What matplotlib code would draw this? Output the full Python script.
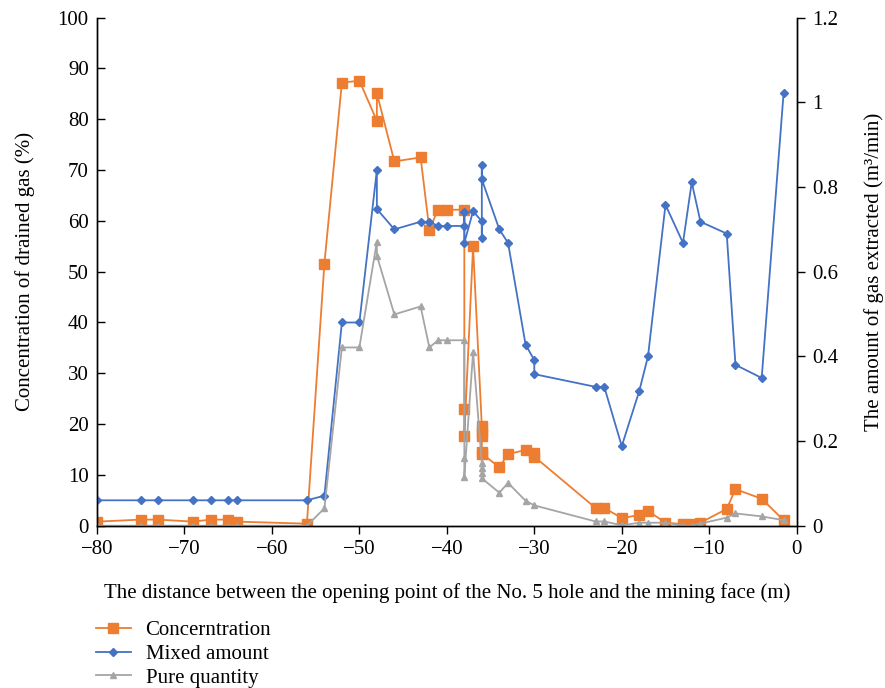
import matplotlib
matplotlib.use("Agg")
import matplotlib.pyplot as plt

plt.rcParams['font.family'] = ['Liberation Serif', 'DejaVu Serif']

# Concentration of drained gas (%) - left axis
conc_x = [-80, -75, -73, -69, -67, -65, -64, -56, -54, -52, -50, -48, -48, -46, -43, -42,
          -41, -40, -38, -38, -38, -37, -36, -36, -36, -36, -36, -34, -33, -31, -30, -30,
          -23, -22, -20, -18, -17, -15, -13, -12, -11, -8, -7, -4, -1.5]
conc = [0.8, 1.2, 1.2, 0.8, 1.2, 1.2, 0.8, 0.4, 51.6, 87.2, 87.6, 79.7, 85.1, 71.7, 72.5, 58.3,
        62.2, 62.2, 62.2, 22.9, 17.7, 55.0, 19.6, 18.5, 17.7, 14.6, 14.2, 11.5, 14.1, 14.9, 14.4, 13.6,
        3.5, 3.5, 1.5, 2.1, 2.9, 0.6, 0.3, 0.3, 0.6, 3.3, 7.2, 5.3, 1.1]

# Mixed amount (m3/min) - right axis
mixed_x = [-80, -75, -73, -69, -67, -65, -64, -56, -54, -52, -50, -48, -48, -46, -43, -42,
           -41, -40, -38, -38, -38, -37, -36, -36, -36, -36, -34, -33, -31, -30, -30,
           -23, -22, -20, -18, -17, -15, -13, -12, -11, -8, -7, -4, -1.5]
mixed = [0.06, 0.06, 0.06, 0.06, 0.06, 0.06, 0.06, 0.06, 0.071, 0.48, 0.48, 0.84, 0.748, 0.70, 0.718, 0.718,
         0.708, 0.708, 0.708, 0.74, 0.668, 0.743, 0.719, 0.68, 0.852, 0.818, 0.70, 0.668, 0.428, 0.391, 0.358,
         0.328, 0.328, 0.188, 0.318, 0.40, 0.758, 0.668, 0.811, 0.718, 0.69, 0.38, 0.349, 1.021]

# Pure quantity (m3/min) - right axis
pure_x = [-80, -75, -73, -69, -67, -65, -64, -56, -54, -52, -50, -48, -48, -46, -43, -42,
          -41, -40, -38, -38, -38, -37, -36, -36, -36, -36, -34, -33, -31, -30,
          -23, -22, -20, -18, -17, -15, -13, -12, -11, -8, -7, -4, -1.5]
pure = [0, 0, 0, 0, 0, 0, 0, 0, 0.041, 0.421, 0.421, 0.671, 0.638, 0.499, 0.518, 0.421,
        0.438, 0.438, 0.438, 0.161, 0.115, 0.41, 0.148, 0.136, 0.124, 0.112, 0.078, 0.101, 0.059, 0.048,
        0.01, 0.01, 0.001, 0.007, 0.007, 0.007, 0, 0, 0.005, 0.019, 0.029, 0.022, 0.013]

orange = '#ED7D31'
blue = '#4472C4'
gray = '#A5A5A5'
fs = 15

fig = plt.figure(figsize=(8.85, 6.88), dpi=100)
ax = fig.add_axes([0.1096, 0.2359, 0.7906, 0.7384])
ax2 = ax.twinx()

l1, = ax.plot(conc_x, conc, color=orange, lw=1.3, marker='s', ms=6.5, label='Concerntration')
l2, = ax2.plot(mixed_x, mixed, color=blue, lw=1.3, marker='D', ms=4.5, label='Mixed amount')
l3, = ax2.plot(pure_x, pure, color=gray, lw=1.3, marker='^', ms=5, label='Pure quantity')

ax.set_xlim(-80, 0)
ax.set_ylim(0, 100)
ax2.set_ylim(0, 1.2)
ax.set_xticks(range(-80, 1, 10))
ax.set_yticks(range(0, 101, 10))
ax2.set_yticks([0, 0.2, 0.4, 0.6, 0.8, 1.0, 1.2])
ax2.set_yticklabels(['0', '0.2', '0.4', '0.6', '0.8', '1', '1.2'])

for a in (ax, ax2):
    a.spines['top'].set_visible(False)
    for s in a.spines.values():
        s.set_linewidth(1.0)
ax.tick_params(axis='x', direction='out', length=6, width=1, labelsize=fs, pad=4)
ax.tick_params(axis='y', direction='in', length=6, width=1, labelsize=fs, pad=6)
ax2.tick_params(axis='y', direction='out', length=6, width=1, labelsize=fs, pad=5)

ax.set_xlabel('The distance between the opening point of the No. 5 hole and the mining face (m)',
              fontsize=fs, labelpad=18)
ax.set_ylabel('Concentration of drained gas (%)', fontsize=fs, labelpad=16)
ax2.set_ylabel('The amount of gas extracted (m\u00b3/min)', fontsize=fs, labelpad=19)

fig.legend(handles=[l1, l2, l3], loc='upper left', bbox_to_anchor=(0.108, 0.098),
           frameon=False, fontsize=fs, handlelength=1.7, handletextpad=0.7,
           labelspacing=0.2, borderpad=0, borderaxespad=0)

fig.savefig('out.png', dpi=100)
